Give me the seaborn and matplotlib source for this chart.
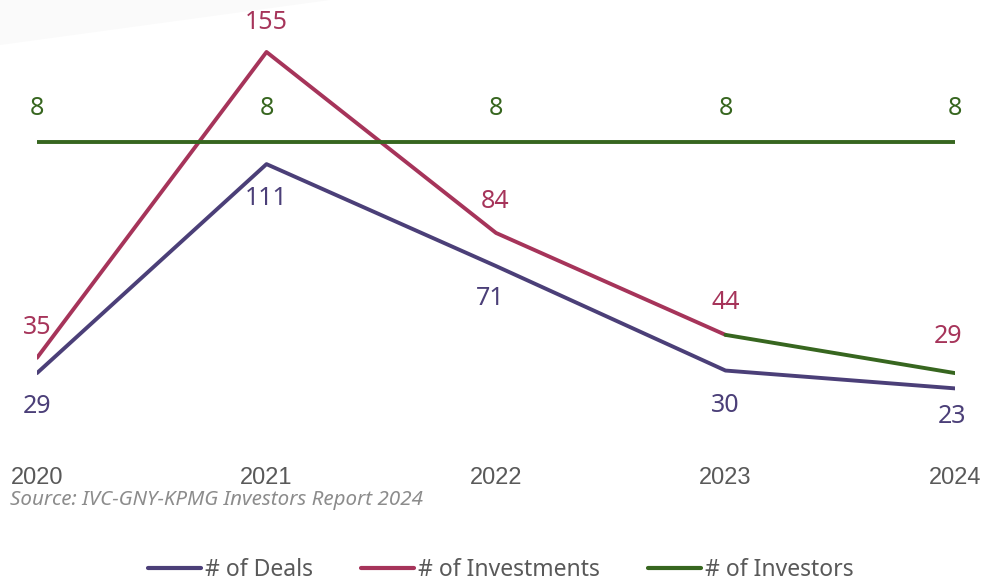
import matplotlib
matplotlib.use("Agg")
import matplotlib.pyplot as plt
import seaborn as sns
import pandas as pd
from matplotlib.lines import Line2D
from matplotlib.patches import Polygon

# dados
years = ['2020', '2021', '2022', '2023', '2024']
deals = [29, 111, 71, 30, 23]
investments = [35, 155, 84, 44, 29]
investors = [8, 8, 8, 8, 8]

c_deals = '#4b3f78'
c_inv = '#a6345a'
c_investors = '#37661f'

sns.set_style("white")
plt.rcParams['font.family'] = ['Noto Sans', 'DejaVu Sans']

fig = plt.figure(figsize=(9.83, 5.83), dpi=100)
fig.patches.append(Polygon([(0, 1), (0, 1 - 45 / 583), (330 / 983, 1)], closed=True,
                           transform=fig.transFigure, facecolor='#fafafa', edgecolor='none', zorder=0))

ax = fig.add_axes([37 / 983, 136 / 583, 918 / 983, 447 / 583])
ax.patch.set_alpha(0)
ax2 = ax.twinx()

x = list(range(len(years)))
df = pd.DataFrame({'x': x, 'deals': deals, 'inv': investments, 'investors': investors})

lw = 2.8
sns.lineplot(data=df, x='x', y='deals', ax=ax, color=c_deals, linewidth=lw, solid_capstyle='round')
sns.lineplot(data=df.iloc[:4], x='x', y='inv', ax=ax, color=c_inv, linewidth=lw, solid_capstyle='round')
# último segmento aparece em verde no original
sns.lineplot(data=df.iloc[3:], x='x', y='inv', ax=ax, color=c_investors, linewidth=lw, solid_capstyle='round')
sns.lineplot(data=df, x='x', y='investors', ax=ax2, color=c_investors, linewidth=lw, solid_capstyle='round')

ax.set_xlim(0, 4)
ax.set_ylim(0, 175.4)
ax2.set_ylim(0, 11.73)
for a in (ax, ax2):
    a.set_axis_off()

lab_kw = dict(textcoords='offset pixels', ha='center', va='center', fontsize=18, annotation_clip=False)

# rótulos de deals (abaixo)
deal_off = [(0, -33), (0, -34), (-6, -32), (0, -35), (-3, -28)]
for i, v in enumerate(deals):
    ax.annotate(str(v), (i, v), xytext=deal_off[i], color=c_deals, **lab_kw)

# rótulos de investments (acima)
inv_off = [(0, 30), (0, 29), (-1, 31), (0, 32), (-7, 37)]
for i, v in enumerate(investments):
    ax.annotate(str(v), (i, v), xytext=inv_off[i], color=c_inv, **lab_kw)

# rótulos de investors
for i, v in enumerate(investors):
    ax2.annotate(str(v), (i, v), xytext=(0, 34), color=c_investors, **lab_kw)

# anos
for i, yr in enumerate(years):
    ax.annotate(yr, (i, 0), xytext=(0, -31), textcoords='offset pixels', ha='center', va='center',
                fontsize=17, color='#595959', family='Liberation Sans', annotation_clip=False)

fig.text(10 / 983, 1 - 500 / 583, 'Source: IVC-GNY-KPMG Investors Report 2024', ha='left', va='center',
         fontsize=14.8, style='italic', color='#8c8c8c')

handles = [Line2D([], [], color=c, linewidth=3) for c in (c_deals, c_inv, c_investors)]
fig.legend(handles, ['# of Deals', '# of Investments', '# of Investors'], loc='center',
           bbox_to_anchor=(501 / 983, 1 - 570 / 583), ncol=3, frameon=False, fontsize=16.5,
           handlelength=2.3, handletextpad=0.18, columnspacing=2.1, labelcolor='#595959')

fig.savefig('out.png', dpi=100)
